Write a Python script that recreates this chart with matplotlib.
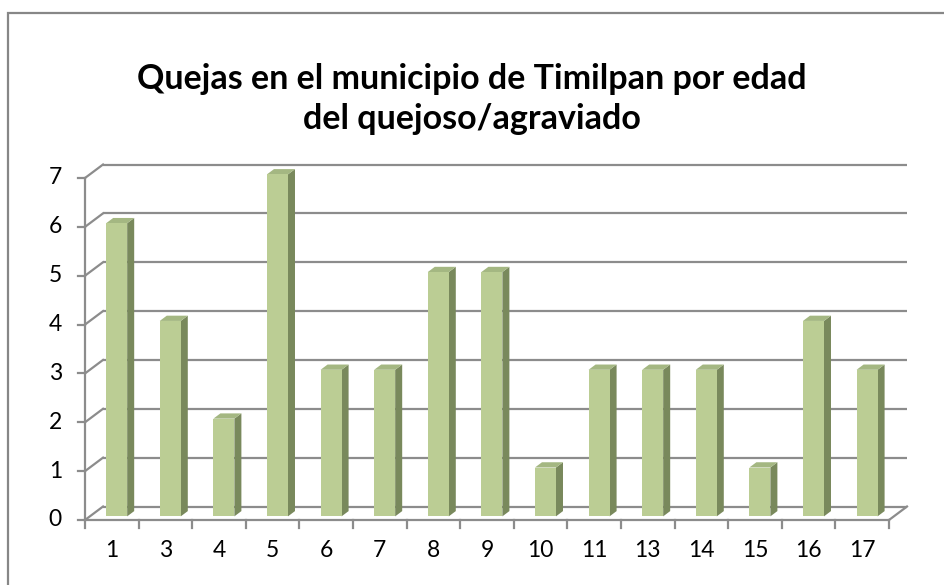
import matplotlib.pyplot as plt
from matplotlib.patches import Polygon, Rectangle

# datos
edades = ['1', '3', '4', '5', '6', '7', '8', '9', '10', '11', '13', '14', '15', '16', '17']
quejas = [6, 4, 2, 7, 3, 3, 5, 5, 1, 3, 3, 3, 1, 4, 3]
niveles = [0, 1, 2, 3, 4, 5, 6, 7]
titulo = 'Quejas en el municipio de Timilpan por edad\ndel quejoso/agraviado'

plt.rcParams['font.family'] = ['Lato', 'DejaVu Sans']

W, H = 945, 585
fig = plt.figure(figsize=(W / 100, H / 100), dpi=100)
fig.patch.set_facecolor('white')

# marco del grafico
fig.add_artist(Rectangle((8.5 / W, -0.1), 1.2, 1 - 12.5 / H + 0.1, transform=fig.transFigure,
                         fill=False, edgecolor='#878787', linewidth=1.6))

n = len(edades)
ax = fig.add_axes([85 / W, (H - 520) / H, 804 / W, 342 / H])
ax.set_xlim(0, n)
ax.set_ylim(0, max(niveles))
ax.axis('off')

# profundidad 3D en unidades de datos
dx, dy = 0.336, 0.276
gris = '#8c8c8c'
lw = 1.6

# lineas de division (pared del fondo) y diagonales
for v in niveles:
    ax.plot([dx, n + dx], [v + dy, v + dy], color=gris, lw=lw, clip_on=False, solid_capstyle='butt')
    ax.plot([0, dx], [v, v + dy], color=gris, lw=lw, clip_on=False)
    ax.plot([-0.13, 0], [v, v], color=gris, lw=lw, clip_on=False)
    ax.text(-0.43, v, str(v), ha='right', va='center', fontsize=16.5, color='black')

# eje vertical y piso
ax.plot([0, 0], [0, max(niveles)], color=gris, lw=lw, clip_on=False)
ax.plot([0, n], [0, 0], color=gris, lw=lw, clip_on=False)
ax.plot([n, n + dx], [0, dy], color=gris, lw=lw, clip_on=False)
for i in range(n + 1):
    ax.plot([i, i], [0, -0.16], color=gris, lw=lw, clip_on=False)

# barras 3D
w = 0.392
f0, f1 = 0.27, 0.66
frente, lado, tapa = '#bbcd94', '#79895c', '#a4b782'
for i, (lab, v) in enumerate(zip(edades, quejas)):
    xl = i + 0.5 - w / 2 + f0 * dx
    xr = xl + w
    y0 = f0 * dy
    ddx, ddy = (f1 - f0) * dx, (f1 - f0) * dy
    ax.add_patch(Polygon([(xr, y0), (xr + ddx, y0 + ddy), (xr + ddx, v + y0 + ddy), (xr, v + y0)],
                         closed=True, facecolor=lado, edgecolor='none', zorder=5, clip_on=False))
    ax.add_patch(Polygon([(xl, v + y0), (xr, v + y0), (xr + ddx, v + y0 + ddy), (xl + ddx, v + y0 + ddy)],
                         closed=True, facecolor=tapa, edgecolor='none', zorder=5, clip_on=False))
    ax.add_patch(Rectangle((xl, y0), w, v, facecolor=frente, edgecolor='none', zorder=6, clip_on=False))
    ax.text(i + 0.5, -0.62, lab, ha='center', va='center', fontsize=16.5, color='black')

fig.text(472 / W, 1 - 99 / H, titulo, ha='center', va='center', fontsize=24.5,
         fontweight='bold', linespacing=1.32)

fig.savefig('out.png', dpi=100)
